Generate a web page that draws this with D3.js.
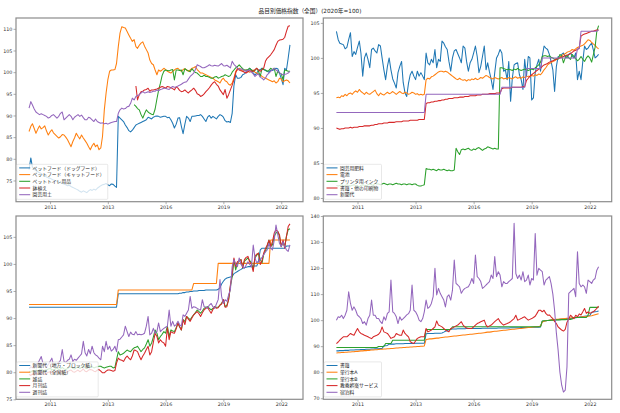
<!DOCTYPE html>
<html><head><meta charset="utf-8">
<script src="https://cdn.jsdelivr.net/npm/d3@7"></script>
<style>body{margin:0;background:#fff}svg text{font-family:"DejaVu Sans","Noto Sans CJK JP",sans-serif}</style>
</head><body><svg id="c" width="620" height="413"></svg>
<script>
// ---------- data ----------
const startMonth = "2010-01";
const monthCount = 150;
const xTickDates = ["2011-01","2013-10","2016-07","2019-04","2022-01"];
const xTickLabels = ["2011","2013","2016","2019","2022"];
const title = "品目別価格指数（全国）(2020年=100)";

// panel 1
const p1Names = ["ペットフード（ドッグフード）","ペットフード（キャットフード）","ペットトイレ用品","鉢植え","園芸用土"];
const dogFood = [77.5,80.2,78.0,77.6,77.3,77.0,76.8,76.6,76.3,76.0,75.8,75.6,
75.5,75.3,75.1,75.0,74.8,74.6,74.5,74.3,74.2,74.0,73.8,73.9,
73.6,73.4,73.2,73.0,72.8,72.5,72.3,72.6,72.4,72.2,72.6,72.9,
72.7,73.0,72.8,73.2,73.5,73.8,74.0,74.1,74.3,74.0,73.8,74.2,
74.1,73.7,73.4,89.8,89.4,89.0,88.6,87.8,87.2,86.5,86.2,86.6,
87.2,87.8,88.0,88.2,88.4,88.6,88.8,89.0,89.6,89.4,89.2,89.6,
89.8,89.9,89.8,89.6,89.7,89.8,89.8,89.5,89.6,89.0,88.2,87.1,
88.0,89.4,89.5,87.5,85.8,88.0,89.8,89.4,88.6,89.8,89.8,89.9,
90.0,90.0,90.2,89.8,89.2,88.6,89.6,90.0,89.4,89.8,89.5,89.2,
89.8,90.2,90.0,89.6,88.8,88.5,88.6,88.4,90.5,96.8,99.4,98.6,
98.6,98.8,99.4,99.6,100.0,100.4,100.9,100.5,99.8,99.4,99.8,100.4,
100.6,100.9,100.6,100.4,100.2,100.0,100.5,100.4,100.6,100.9,100.8,99.8,
98.5,97.1,100.9,100.5,103.2,106.3];
const catFood = [86.3,87.5,88.1,87.0,85.9,86.8,87.6,86.9,87.2,87.6,86.4,85.5,
86.2,86.7,86.0,85.6,85.2,84.8,85.1,85.6,85.5,85.0,84.4,83.6,
82.8,84.0,84.8,85.9,85.2,84.6,85.5,84.8,84.2,83.6,82.8,82.1,
83.0,83.6,82.8,83.2,82.1,82.5,85.2,91.3,95.2,98.2,100.2,100.5,
100.5,100.6,102.0,105.9,109.0,110.5,110.3,110.2,109.4,108.6,107.8,107.1,
107.5,105.9,105.5,106.2,106.7,107.0,106.0,105.2,104.4,102.8,102.0,101.7,
100.5,99.4,100.5,100.2,100.5,100.9,100.6,100.2,100.0,99.8,100.2,100.5,
100.8,100.9,100.5,100.2,100.6,100.8,100.5,100.2,100.5,100.9,101.0,101.3,
100.6,100.2,99.8,99.8,99.6,99.4,99.2,99.0,98.8,98.6,98.2,98.0,
97.8,97.5,98.2,98.6,98.0,97.8,97.2,97.0,97.5,98.6,100.2,100.5,
100.9,100.6,100.2,100.4,100.5,100.2,100.0,100.2,100.5,100.0,99.8,99.6,
99.4,99.0,98.8,98.6,98.4,98.2,98.0,97.8,98.0,97.5,97.8,98.6,
98.4,97.8,98.0,98.2,98.0,97.5];
const petToilet = [null,null,null,null,null,null,null,null,null,null,null,null,
null,null,null,null,null,null,null,null,null,null,null,null,
null,null,null,null,null,null,null,null,null,null,null,null,
null,null,null,null,null,null,null,null,null,null,null,null,
null,null,null,null,null,null,null,null,null,null,null,null,
92.5,92.1,91.6,91.3,90.2,89.4,90.4,91.3,90.8,90.5,90.3,90.2,
91.5,93.8,95.8,97.4,99.2,100.2,100.5,100.4,100.3,100.5,100.6,98.2,
100.5,100.5,100.4,100.5,99.4,100.8,100.5,100.3,100.1,100.8,100.3,99.9,
99.8,99.4,99.0,99.0,99.3,99.0,99.0,98.8,98.6,98.6,98.9,99.0,
98.6,98.8,99.0,99.1,99.4,99.2,99.0,99.2,100.0,100.5,101.0,101.3,
101.7,101.2,100.8,100.5,100.5,100.6,100.9,100.5,100.2,100.4,100.9,100.2,
99.0,100.9,100.6,100.5,100.2,100.4,100.9,100.6,100.9,99.0,100.2,99.8,
99.6,98.2,100.5,100.4,100.2,100.2];
const pottedPlant = [null,null,null,null,null,null,null,null,null,null,null,null,
null,null,null,null,null,null,null,null,null,null,null,null,
null,null,null,null,null,null,null,null,null,null,null,null,
null,null,null,null,null,null,null,null,null,null,null,null,
null,null,null,null,null,null,null,null,null,null,null,null,
null,96.8,93.6,94.8,95.5,95.6,95.9,96.0,96.3,95.6,95.9,95.9,
96.0,96.1,96.3,96.5,96.7,96.5,96.3,96.7,96.6,96.4,96.2,95.9,
96.6,96.3,95.8,95.5,95.6,95.9,95.5,95.2,95.6,95.9,96.3,95.8,
95.0,94.8,94.4,94.6,95.0,95.5,95.9,96.4,97.0,97.5,97.8,97.2,
96.8,95.9,95.4,94.8,96.0,94.0,94.8,95.9,97.0,98.2,99.8,100.9,
100.5,100.3,100.2,100.0,99.8,100.1,100.4,100.2,100.2,100.6,100.9,100.5,
100.2,100.6,100.9,102.5,103.2,103.6,104.0,104.6,105.2,106.2,107.1,107.4,
107.5,107.6,108.0,109.4,110.6,110.7];
const gardenSoil = [91.7,93.2,92.4,91.5,90.8,90.5,90.2,90.4,90.2,90.0,89.8,89.4,
89.6,90.0,90.2,89.8,89.4,89.8,90.5,90.8,89.0,89.4,89.8,90.2,
89.8,89.0,89.6,89.9,90.2,89.8,90.1,89.5,89.0,89.0,89.6,89.4,
89.0,88.6,89.2,88.6,88.4,88.2,88.3,88.1,88.2,88.0,88.2,88.4,
88.5,88.6,88.6,90.5,91.3,91.7,91.5,91.6,92.0,92.1,92.8,94.0,
93.6,94.4,94.6,94.8,95.2,95.5,95.2,95.3,95.5,95.3,95.4,95.6,
95.6,95.9,95.7,96.0,96.1,96.3,96.3,96.1,96.0,96.4,96.7,96.5,
96.6,96.8,97.0,97.2,97.5,97.7,97.8,98.4,99.0,99.4,99.8,100.6,
101.7,101.5,101.3,101.0,101.0,101.2,101.4,101.7,101.5,101.4,101.6,101.5,
101.4,101.7,102.0,101.5,101.4,101.6,101.3,101.0,102.5,101.8,101.4,101.0,
100.5,100.8,100.6,100.4,100.2,100.5,100.3,100.0,99.6,99.0,99.4,99.6,
98.8,98.6,98.2,98.6,99.4,99.8,100.2,100.6,100.9,100.5,100.2,99.8,
99.6,99.4,99.5,99.6,99.8,100.2];
const p1Ticks = [75,80,85,90,95,100,105,110];

// panel 2
const p2Names = ["園芸用肥料","電池","プリンタ用インク","書籍・他の印刷物","新聞代"];
const fertilizer = [103.8,102.6,102.1,102.0,101.9,101.3,101.5,102.6,103.6,100.2,100.9,100.5,
101.5,102.4,100.7,97.4,100.0,100.7,99.8,98.6,101.2,101.4,101.0,100.7,
101.9,101.7,100.0,98.3,96.9,98.8,100.0,98.3,97.0,96.4,95.7,97.9,
98.8,99.5,96.5,95.0,94.5,96.4,97.6,98.1,97.4,96.9,98.1,97.4,
97.9,97.4,96.9,100.7,99.3,99.0,99.8,99.3,101.2,98.6,99.8,99.5,
102.4,102.1,101.6,101.2,99.5,98.1,100.0,101.0,101.2,100.6,100.0,99.3,
101.7,101.4,99.5,98.1,99.3,99.8,100.7,101.7,100.2,97.9,98.8,100.2,
101.7,98.3,99.3,98.0,96.9,95.5,97.9,100.0,100.5,101.2,100.7,98.1,
98.3,96.9,99.5,93.8,97.1,99.0,99.2,99.3,97.6,96.9,95.5,99.8,
97.4,100.2,100.0,94.0,94.3,97.9,99.0,99.8,98.1,100.2,101.7,101.4,
101.2,100.5,99.5,98.3,95.2,98.8,100.2,100.0,100.5,100.7,100.2,100.0,
100.5,100.7,100.3,100.0,100.7,96.9,98.1,96.9,99.5,101.7,101.2,101.4,
101.8,102.1,101.2,100.0,100.2,100.5];
const battery = [94.3,94.4,94.3,94.6,94.5,94.8,94.6,94.9,95.0,94.8,95.1,95.3,
95.1,95.5,95.2,95.0,94.8,95.1,94.9,94.8,95.0,95.2,95.4,94.9,
94.6,95.0,94.8,94.7,94.9,95.1,94.9,95.0,95.2,95.0,94.8,95.0,
95.2,95.0,94.9,95.1,95.0,94.8,94.9,95.1,95.0,94.8,94.9,94.7,
94.8,94.7,94.8,96.9,97.1,97.0,97.3,97.4,97.6,97.8,98.0,98.1,
98.1,98.0,98.1,98.0,97.8,97.6,97.4,97.2,97.0,96.9,97.1,96.9,
96.8,96.9,96.7,96.9,96.8,97.0,96.9,97.1,96.9,97.0,97.2,97.1,
97.3,97.5,97.4,97.2,97.1,97.0,97.2,97.1,97.0,97.1,97.2,97.0,
97.1,97.0,97.2,97.1,97.0,97.2,97.3,97.1,97.2,97.1,97.3,97.2,
97.3,97.4,97.3,97.5,97.4,97.6,97.5,97.7,97.6,97.9,98.3,98.6,
99.0,99.2,99.3,99.5,99.6,99.8,99.9,100.1,100.3,100.5,100.6,100.8,
100.9,101.0,101.2,101.1,101.3,101.5,101.6,101.7,101.8,102.0,102.3,102.6,
102.5,102.2,102.0,101.8,101.5,101.3];
const printerInk = [81.8,81.7,81.8,81.9,81.7,81.8,81.9,81.8,81.7,81.8,81.9,81.8,
81.7,81.6,81.8,81.9,81.8,81.7,81.9,82.0,81.9,81.8,82.1,82.0,
82.0,81.9,82.0,82.1,82.0,81.9,82.0,82.0,81.9,82.0,82.1,82.0,
82.0,81.9,82.0,82.0,81.9,82.0,82.0,81.9,82.0,82.0,81.8,81.7,
81.7,81.8,81.9,84.2,84.1,84.1,84.0,84.1,84.0,83.9,84.1,84.0,
84.0,84.1,84.0,83.9,84.0,83.9,83.9,84.0,87.1,86.6,86.2,86.9,
87.0,86.9,87.0,87.1,86.9,86.8,87.0,86.9,87.1,87.2,87.0,86.8,
87.0,87.1,87.3,87.2,87.1,87.0,87.1,87.0,87.0,98.6,98.6,98.5,
98.4,98.3,98.4,98.3,98.2,98.4,98.3,98.5,98.3,98.2,98.3,98.4,
98.3,98.2,98.3,98.4,98.3,98.6,98.8,99.0,99.4,100.2,100.3,100.3,
100.2,100.3,100.1,100.0,99.8,99.9,99.8,100.5,100.3,99.3,100.0,100.4,
100.0,99.8,100.5,100.2,99.9,99.6,99.8,100.2,99.8,99.5,100.0,100.3,
100.0,99.4,100.4,101.5,103.8,104.6];
const printedMatter = [90.0,89.9,89.8,89.9,89.9,90.0,90.0,90.0,90.1,90.0,90.1,90.1,
90.1,90.2,90.2,90.2,90.3,90.3,90.3,90.3,90.4,90.4,90.5,90.5,
90.6,90.6,90.6,90.7,90.7,90.7,90.8,90.8,90.8,90.8,90.9,90.9,
90.9,90.9,91.0,91.0,91.0,91.0,91.1,91.1,91.1,91.1,91.1,91.2,
91.2,91.2,91.2,93.5,93.6,93.6,93.7,93.7,93.8,93.8,93.9,93.9,
94.0,94.0,94.1,94.1,94.2,94.2,94.2,94.3,94.3,94.3,94.4,94.4,
94.4,94.5,94.5,94.5,94.6,94.6,94.6,94.6,94.7,94.7,94.7,94.8,
94.8,94.8,94.8,94.9,94.9,94.9,94.9,95.0,95.0,95.0,95.6,95.7,
95.7,95.7,95.7,95.7,95.8,95.8,95.8,95.8,95.8,95.8,95.9,95.9,
96.8,97.1,97.4,97.6,97.8,98.0,98.2,98.4,98.5,98.8,99.0,99.1,
99.2,99.4,99.5,99.6,99.7,99.8,99.9,100.0,100.1,100.2,100.3,100.4,
100.5,100.6,100.8,101.0,101.1,101.2,101.4,103.1,103.3,103.4,103.5,103.6,
103.7,103.8,103.8,103.9,104.0,104.0];
const newspaper = [92.2,92.2,92.2,92.2,92.2,92.2,92.2,92.2,92.2,92.2,92.2,92.2,
92.2,92.2,92.2,92.2,92.2,92.2,92.2,92.2,92.2,92.2,92.2,92.2,
92.2,92.2,92.2,92.2,92.2,92.2,92.2,92.2,92.2,92.2,92.2,92.2,
92.2,92.2,92.2,92.2,92.2,92.2,92.2,92.2,92.2,92.2,92.2,92.2,
92.2,92.2,92.2,94.8,94.8,94.8,94.8,94.8,94.8,94.8,94.8,94.8,
94.8,94.8,94.8,94.8,94.8,94.8,94.8,94.8,94.8,94.8,94.8,94.8,
94.8,94.8,94.8,94.8,94.8,94.8,94.8,94.8,94.8,94.8,94.8,94.8,
94.8,94.8,94.8,94.8,94.8,94.8,94.8,94.8,94.8,94.8,95.8,95.8,
95.8,95.8,95.8,95.8,95.8,95.8,95.8,95.8,95.8,95.8,95.8,95.8,
98.5,98.5,98.5,98.5,98.5,98.5,98.5,98.5,98.5,100.0,100.0,100.0,
100.0,100.0,100.0,100.0,100.0,100.0,100.0,100.0,100.0,100.0,100.0,100.0,
100.0,100.0,100.0,100.0,100.0,101.3,101.3,103.8,103.8,103.8,103.8,103.8,
103.8,103.8,103.8,103.8,103.8,104.0];
const p2Ticks = [80,85,90,95,100,105];

// panel 3
const p3Names = ["新聞代（地方・ブロック紙）","新聞代（全国紙）","雑誌","月刊誌","週刊誌"];
const localPaper = [92.0,92.0,92.0,92.0,92.0,92.0,92.0,92.0,92.0,92.0,92.0,92.0,
92.0,92.0,92.0,92.0,92.0,92.0,92.0,92.0,92.0,92.0,92.0,92.0,
92.0,92.0,92.0,92.0,92.0,92.0,92.0,92.0,92.0,92.0,92.0,92.0,
92.0,92.0,92.0,92.0,92.0,92.0,92.0,92.0,92.0,92.0,92.0,92.0,
92.0,92.0,92.0,94.5,94.5,94.5,94.5,94.5,94.5,94.5,94.5,94.5,
94.5,94.5,94.5,94.5,94.5,94.5,94.5,94.5,94.5,94.5,94.5,94.5,
94.5,94.5,94.5,94.5,94.5,94.5,94.5,94.5,94.5,94.5,94.5,94.5,
94.5,94.5,94.6,94.6,94.7,94.7,94.8,94.8,94.9,94.9,95.0,95.0,
95.0,95.1,95.1,95.1,95.1,95.2,95.2,95.2,95.2,95.2,95.2,95.2,
95.3,95.6,96.3,96.8,97.2,97.4,97.5,97.6,97.7,98.2,98.4,98.6,
98.8,99.0,99.2,99.3,99.4,99.5,99.5,99.5,99.6,99.6,99.6,100.5,
102.6,102.9,102.9,102.9,102.9,102.9,102.9,102.9,102.9,102.9,102.9,102.9,
102.9,102.9,102.9,103.3,103.3,103.3];
const nationalPaper = [92.5,92.5,92.5,92.5,92.5,92.5,92.5,92.5,92.5,92.5,92.5,92.5,
92.5,92.5,92.5,92.5,92.5,92.5,92.5,92.5,92.5,92.5,92.5,92.5,
92.5,92.5,92.5,92.5,92.5,92.5,92.5,92.5,92.5,92.5,92.5,92.5,
92.5,92.5,92.5,92.5,92.5,92.5,92.5,92.5,92.5,92.5,92.5,92.5,
92.5,92.5,92.5,95.2,95.2,95.2,95.2,95.2,95.2,95.2,95.2,95.2,
95.2,95.2,95.2,95.2,95.2,95.2,95.2,95.2,95.2,95.2,95.2,95.2,
95.2,95.2,95.2,95.2,95.2,95.2,95.2,95.2,95.2,95.2,95.2,95.2,
95.2,95.2,95.2,95.2,95.2,95.2,95.2,95.2,95.2,95.2,96.4,96.4,
96.4,96.4,96.4,96.4,96.4,96.4,96.4,96.4,96.4,96.4,96.4,96.4,
100.1,100.1,100.1,100.1,100.1,100.1,100.1,100.1,100.1,100.1,100.1,100.1,
100.1,100.1,100.1,100.1,100.1,100.1,100.1,100.1,100.1,100.1,100.1,100.1,
100.1,100.1,100.1,100.1,100.1,100.1,104.4,104.4,104.4,104.4,104.4,104.4,
104.4,104.4,104.4,104.4,104.4,104.4];
const magazine = [80.2,80.0,80.3,80.1,80.4,80.2,80.5,80.6,80.3,80.2,80.4,80.6,
80.7,80.5,80.4,80.6,80.8,80.5,80.6,80.9,80.6,80.5,80.7,80.9,
81.0,80.7,80.6,80.8,81.0,80.7,80.9,81.2,80.8,80.7,81.0,81.1,
81.0,80.8,80.9,81.0,81.1,81.1,80.9,80.8,80.9,81.0,81.1,81.1,
80.8,80.9,82.3,83.8,83.2,83.3,83.5,83.8,84.1,83.9,83.8,84.2,
84.5,84.6,84.8,84.3,83.8,84.2,84.5,85.2,86.0,84.8,85.4,86.5,
87.8,87.2,86.0,86.6,87.0,87.5,87.2,88.5,86.6,87.8,87.6,87.5,
88.2,89.1,88.4,87.8,89.7,89.4,90.3,90.0,89.7,90.2,90.6,91.0,
91.5,91.2,90.9,91.3,91.8,92.0,92.1,91.8,91.5,91.8,92.1,92.0,
92.0,92.4,92.7,93.4,92.1,92.4,93.4,95.8,97.6,100.8,98.9,100.1,
100.5,100.8,99.3,100.5,100.8,101.1,100.6,100.2,98.9,101.1,101.6,102.0,
100.8,100.2,101.7,102.4,103.2,104.4,103.2,103.5,105.1,105.7,106.0,105.1,
103.2,104.1,103.2,105.1,106.3,106.5];
const monthly = [79.6,79.4,79.7,79.5,79.8,79.6,79.9,80.0,79.7,79.6,79.8,80.0,
80.1,79.9,79.8,80.0,80.2,79.9,80.0,80.3,80.0,79.9,80.1,80.3,
80.4,80.1,80.0,80.2,80.4,80.1,80.3,80.6,80.2,80.1,80.4,80.5,
80.4,80.2,80.1,80.4,80.5,80.2,79.9,79.9,80.2,80.4,80.4,80.3,
80.2,80.3,81.7,82.6,82.3,82.2,82.0,82.6,83.0,82.6,82.3,83.0,
84.1,84.0,83.8,83.0,82.3,83.0,83.5,84.2,84.8,83.2,83.8,85.5,
87.2,86.6,85.4,86.0,85.6,85.4,84.8,88.2,86.0,87.5,87.3,87.2,
88.0,89.1,88.4,87.8,89.7,88.8,90.3,89.8,89.4,90.0,90.6,90.9,
91.2,90.8,90.3,91.0,91.5,91.8,92.0,91.4,90.9,91.6,92.1,91.8,
91.9,92.4,92.6,93.4,92.0,92.1,93.4,96.1,98.2,101.1,99.5,100.4,
100.6,100.8,99.3,100.8,101.2,101.4,100.4,99.9,98.6,101.4,101.8,102.0,
99.9,100.6,102.0,102.8,103.5,104.4,103.2,104.1,105.7,106.3,106.0,105.4,
103.2,104.4,102.9,105.1,106.9,107.4];
const weekly = [80.6,81.0,80.8,81.2,81.0,81.6,82.2,82.9,81.6,81.3,81.0,81.4,
82.0,82.6,81.4,81.2,81.6,81.8,82.2,84.2,82.0,81.8,82.2,82.4,
83.2,82.0,82.4,82.2,82.6,83.0,83.4,85.7,83.6,83.0,84.2,83.4,
84.8,83.6,83.2,83.0,82.6,82.3,84.8,83.8,85.7,84.2,84.8,83.9,
84.2,84.8,83.8,86.0,86.1,86.5,86.9,88.5,87.5,86.6,87.4,87.0,
86.9,87.5,86.9,87.0,86.9,87.0,87.2,88.5,90.3,86.9,87.2,88.1,
87.2,87.5,89.1,87.5,87.8,88.1,88.3,88.5,91.5,88.5,89.4,88.5,
88.8,89.4,88.8,88.5,90.6,90.3,90.9,91.5,94.0,91.8,92.1,92.0,
91.8,91.6,91.5,93.4,92.1,92.0,91.8,92.4,92.7,92.1,91.8,92.6,
93.4,97.1,94.0,92.7,93.4,93.1,94.3,95.2,99.5,100.8,100.0,99.5,
101.1,99.9,99.6,99.2,99.8,100.4,99.9,99.5,103.5,101.1,100.2,100.5,
100.8,101.2,101.7,102.2,102.6,103.8,102.9,102.6,104.4,107.2,105.4,103.8,
103.2,104.1,103.2,102.6,102.3,103.5];
const p3Ticks = [75,80,85,90,95,100,105];

// panel 4
const p4Names = ["書籍","単行本A","単行本B","教養娯楽サービス","宿泊料"];
const books = [88.2,88.2,88.3,88.3,88.3,88.4,88.4,88.4,88.5,88.5,88.5,88.6,
88.6,88.6,88.7,88.7,88.7,88.8,88.8,88.8,88.9,88.9,89.0,89.0,
89.0,89.1,89.1,90.2,90.2,90.3,90.8,90.8,90.8,90.8,90.9,90.9,
90.9,90.9,90.9,91.0,91.0,91.0,91.0,91.0,91.0,91.1,91.1,91.1,
91.1,91.1,91.1,94.8,94.9,94.9,94.9,94.9,95.0,95.0,95.0,95.0,
95.1,95.4,95.7,96.0,96.3,96.5,96.6,96.6,96.6,96.7,96.7,96.7,
96.7,96.7,96.8,96.8,96.8,96.8,96.8,96.8,96.8,96.8,96.8,96.9,
96.9,96.9,96.9,96.9,96.9,96.9,96.9,96.9,97.0,97.0,97.0,97.0,
97.0,97.0,97.0,97.1,97.1,97.1,97.1,97.1,97.1,97.2,97.2,97.2,
97.2,97.2,97.2,97.3,97.3,97.3,97.3,97.3,97.4,99.6,99.7,99.8,
99.9,100.0,100.0,100.1,100.1,100.2,100.2,100.3,100.3,100.4,100.4,100.5,
100.5,100.6,100.7,100.8,100.9,101.0,101.2,101.3,101.4,101.5,101.6,101.7,
101.8,103.0,103.1,103.2,103.3,103.5];
const bookA = [87.4,87.5,87.5,87.6,87.6,87.7,87.7,87.8,87.8,87.9,87.9,88.0,
88.0,88.1,88.2,88.2,88.3,88.3,88.4,88.4,88.5,88.5,88.6,88.6,
88.7,88.8,88.8,88.9,88.9,89.0,89.0,89.1,89.1,89.2,89.3,89.3,
89.4,89.4,89.5,89.5,89.6,89.6,89.7,89.7,89.8,89.8,89.9,89.9,
90.0,90.0,90.1,92.6,92.7,92.8,92.8,92.9,93.0,93.1,93.1,93.2,
93.3,93.4,93.5,93.5,93.6,93.7,93.8,93.9,93.9,94.0,94.1,94.2,
94.3,94.3,94.4,94.5,94.6,94.6,94.7,94.8,94.9,95.0,95.0,95.1,
95.2,95.3,95.4,95.4,95.5,95.6,95.7,95.7,95.8,95.9,96.0,96.1,
96.1,96.2,96.3,96.4,96.5,96.5,96.6,96.7,96.8,96.8,96.9,97.0,
97.1,97.2,97.2,97.3,97.4,97.5,97.5,97.6,97.7,99.3,99.6,99.8,
99.9,100.0,100.1,100.1,100.2,100.3,100.3,100.4,100.5,100.5,100.6,100.7,
100.7,100.8,100.9,100.9,101.0,101.1,101.1,101.2,101.3,101.3,101.4,101.5,
101.6,101.7,101.9,102.1,102.3,102.5];
const bookB = [89.5,89.5,89.5,89.5,89.5,89.5,89.5,89.5,89.5,89.5,89.5,89.5,
89.5,89.5,89.5,89.5,89.5,89.5,89.5,89.5,89.5,89.5,89.5,89.5,
89.9,89.9,89.9,89.9,91.0,91.0,91.0,91.0,92.3,92.3,92.3,92.3,
92.3,92.3,92.3,92.3,92.3,92.3,92.3,92.3,92.3,92.3,92.3,92.3,
92.3,92.3,92.3,96.4,96.4,96.4,96.4,96.4,96.4,96.4,96.4,96.4,
96.4,96.4,96.4,96.4,96.4,96.4,97.5,97.5,97.5,97.5,97.5,97.5,
97.5,97.5,97.5,97.5,97.5,97.5,97.5,97.5,97.5,97.5,97.5,97.5,
97.5,97.5,97.5,97.5,97.5,97.5,97.5,97.5,97.5,97.5,97.5,97.5,
97.5,97.5,97.5,97.5,97.5,97.5,97.5,97.5,97.5,97.5,97.5,97.5,
97.5,97.5,97.5,97.5,97.5,97.5,97.5,97.5,97.5,99.7,99.8,99.8,
99.9,99.9,100.0,100.0,100.0,100.1,100.1,100.1,100.2,100.2,100.2,100.3,
100.3,100.3,100.4,101.0,101.0,101.0,101.0,101.0,101.0,101.0,101.0,101.9,
104.9,104.9,104.9,104.9,104.9,104.9];
const culture = [91.0,91.6,92.3,93.0,93.6,93.6,93.6,94.2,94.9,94.5,94.2,95.5,
96.8,95.5,94.9,94.6,94.2,93.9,93.6,93.2,92.9,93.6,93.9,94.2,
94.6,95.5,97.4,95.5,95.2,94.9,94.0,93.0,93.3,93.6,94.9,94.5,
94.2,94.2,96.2,94.9,94.2,93.6,91.7,91.3,91.0,92.0,93.0,93.3,
93.6,93.6,93.6,96.8,95.5,95.8,96.2,96.8,97.4,99.7,98.1,97.8,
97.4,96.8,96.2,95.8,95.5,96.8,97.0,97.4,97.8,98.1,98.8,99.4,
98.1,97.4,97.0,96.8,96.8,96.8,97.4,98.1,98.7,99.0,99.4,99.7,
100.0,98.1,97.4,97.8,98.1,98.8,99.4,100.0,100.6,99.4,98.7,98.1,
98.4,98.7,99.0,99.4,100.0,100.6,101.9,100.0,100.3,100.6,101.0,101.3,
100.6,100.0,100.3,100.6,101.0,101.5,102.6,103.8,103.8,103.2,103.8,102.6,
101.9,102.0,101.3,100.6,99.5,98.7,97.4,96.8,96.2,95.8,96.5,99.1,
100.5,101.9,101.3,100.6,101.9,101.3,102.4,102.0,103.2,104.5,102.6,103.2,
102.6,102.9,103.2,103.8,104.5,105.4];
const lodging = [100.0,101.3,101.0,101.9,100.6,101.9,103.8,110.9,106.4,103.8,105.1,103.8,
101.9,101.3,100.6,98.7,99.4,98.1,100.6,101.9,107.7,101.9,101.9,100.6,
100.6,99.4,98.7,101.3,100.0,102.6,103.2,115.4,103.2,102.6,101.3,98.7,
101.3,100.0,100.6,101.3,102.0,102.5,103.8,113.5,103.8,103.2,101.9,100.0,
99.4,100.6,103.2,107.7,104.5,105.1,106.4,109.0,119.9,109.7,112.2,110.3,
109.0,107.7,105.1,109.0,109.7,107.7,111.5,123.1,114.1,113.5,112.8,110.3,
111.5,112.2,112.5,112.8,114.1,116.0,114.1,125.0,116.7,116.0,114.8,112.2,
112.8,113.5,114.1,114.8,117.3,116.0,124.4,116.7,118.6,117.3,112.8,114.8,
114.1,114.1,114.8,115.4,116.0,137.2,117.9,116.0,117.3,115.4,118.6,114.8,
115.4,117.3,113.5,116.0,115.4,133.3,117.3,119.9,119.2,118.6,113.5,115.4,
116.0,116.7,114.1,110.0,103.8,95.0,88.5,80.0,75.0,72.4,73.1,82.0,
110.3,111.0,111.5,112.2,109.0,126.3,114.1,112.8,113.5,112.8,110.3,115.4,
114.8,114.1,115.4,116.0,119.2,120.5];
const p4Ticks = [70,80,90,100,110,120,130,140];

const colors = ["#1f77b4","#ff7f0e","#2ca02c","#d62728","#9467bd"];

// ---------- layout ----------
const panels = [
  {box:[16,18,303,201.7], yDomain:[70.1,112.5], ticks:p1Ticks, names:p1Names, data:[dogFood,catFood,petToilet,pottedPlant,gardenSoil]},
  {box:[323.3,18,611.7,201.7], yDomain:[79.47,105.7], ticks:p2Ticks, names:p2Names, data:[fertilizer,battery,printerInk,printedMatter,newspaper]},
  {box:[16,216,303,399.3], yDomain:[75,108.85], ticks:p3Ticks, names:p3Names, data:[localPaper,nationalPaper,magazine,monthly,weekly]},
  {box:[323.3,216,611.7,399.3], yDomain:[69.6,140], ticks:p4Ticks, names:p4Names, data:[books,bookA,bookB,culture,lodging]}
];

const parseM = d3.timeParse("%Y-%m");
const t0 = parseM(startMonth);
const dates = d3.range(monthCount).map(i => d3.timeMonth.offset(t0, i));
const svg = d3.select("#c");
const FS = 4.8;

svg.append("text").attr("x",310).attr("y",12.6).attr("text-anchor","middle")
  .attr("font-size",5.7).attr("fill","#222").text(title);

panels.forEach(p => {
  const [L,T,R,B] = p.box;
  const W = R - L, pad = W * 0.05 / 1.1;
  const x = d3.scaleTime().domain([dates[0], dates[monthCount-1]]).range([L+pad, R-pad]);
  const y = d3.scaleLinear().domain(p.yDomain).range([B, T]);
  const g = svg.append("g");

  // lines
  p.data.forEach((arr, k) => {
    const line = d3.line().defined(d => d != null)
      .x((d,i) => x(dates[i])).y(d => y(d));
    g.append("path").datum(arr).attr("d", line)
      .attr("fill","none").attr("stroke",colors[k]).attr("stroke-width",1.05)
      .attr("stroke-linejoin","round");
  });

  // axes
  const xa = d3.axisBottom(x).tickValues(xTickDates.map(parseM))
    .tickFormat((d,i) => xTickLabels[i]).tickSize(2.5).tickPadding(1.2);
  const ya = d3.axisLeft(y).tickValues(p.ticks).tickFormat(d3.format("d")).tickSize(2.5).tickPadding(1.2);
  const gx = svg.append("g").attr("transform",`translate(0,${B})`).call(xa);
  const gy = svg.append("g").attr("transform",`translate(${L},0)`).call(ya);
  [gx,gy].forEach(a => {
    a.select(".domain").remove();
    a.selectAll("line").attr("stroke","#777").attr("stroke-width",0.6);
    a.selectAll("text").attr("font-size",FS).attr("fill","#333")
      .style("font-family",'"DejaVu Sans",sans-serif');
  });
  svg.append("rect").attr("x",L).attr("y",T).attr("width",W).attr("height",B-T)
    .attr("fill","none").attr("stroke","#8c8c8c").attr("stroke-width",1.2);

  // legend
  const lg = svg.append("g");
  const rowH = 6.7, n = p.names.length;
  const bx = L + 0.8, bh = rowH*(n-1) + 8.2, by = B - 2.4 - bh;
  const bg = lg.append("rect");
  let maxW = 0;
  p.names.forEach((name, k) => {
    const cy = by + 3.6 + k*rowH;
    lg.append("line").attr("x1",bx+2.4).attr("x2",bx+13.4).attr("y1",cy).attr("y2",cy)
      .attr("stroke",colors[k]).attr("stroke-width",1.05);
    const t = lg.append("text").attr("x",bx+15.8).attr("y",cy+1.7)
      .attr("font-size",FS).attr("fill","#222").text(name);
    maxW = Math.max(maxW, t.node().getComputedTextLength());
  });
  bg.attr("x",bx).attr("y",by).attr("width",maxW+19).attr("height",bh).attr("rx",1)
    .attr("fill","#fff").attr("fill-opacity",0.8).attr("stroke","#d0d0d0").attr("stroke-width",0.5);
});
</script></body></html>
